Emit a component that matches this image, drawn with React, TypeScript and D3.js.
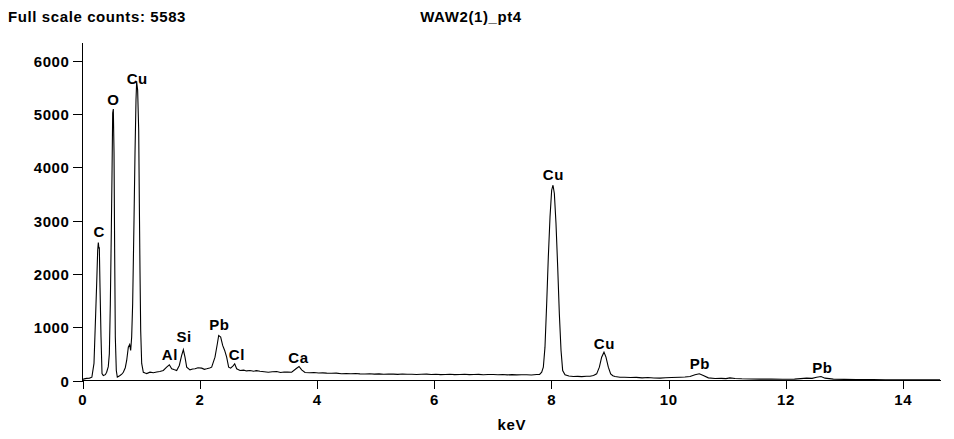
import React, { useEffect } from "react";
import * as d3 from "d3";

const energy: number[] = [
  0.0, 0.03, 0.07, 0.12, 0.16, 0.196, 0.225, 0.242, 0.259, 0.27, 0.28, 0.287, 0.299, 0.316, 0.333, 0.355, 0.39, 0.412, 0.44, 0.458,
  0.475, 0.492, 0.503, 0.515, 0.526, 0.538, 0.549, 0.56, 0.577, 0.594, 0.62, 0.64, 0.67, 0.697, 0.73, 0.754, 0.782, 0.805, 0.822, 0.839,
  0.856, 0.879, 0.896, 0.913, 0.924, 0.941, 0.959, 0.97, 0.981, 0.993, 1.01, 1.038, 1.07, 1.095, 1.152, 1.21, 1.266, 1.32, 1.379, 1.436,
  1.482, 1.522, 1.56, 1.607, 1.652, 1.692, 1.721, 1.749, 1.778, 1.834, 1.88, 1.92, 1.97, 2.034, 2.08, 2.119, 2.17, 2.204, 2.261, 2.301,
  2.324, 2.358, 2.392, 2.426, 2.46, 2.494, 2.528, 2.574, 2.597, 2.631, 2.688, 2.75, 2.8, 2.858, 2.92, 2.97, 3.029, 3.1, 3.171, 3.24,
  3.313, 3.38, 3.44, 3.5, 3.569, 3.643, 3.695, 3.74, 3.797, 3.88, 3.95, 4.03, 4.1, 4.167, 4.25, 4.33, 4.42, 4.5, 4.58, 4.66,
  4.735, 4.82, 4.9, 4.98, 5.06, 5.14, 5.22, 5.304, 5.38, 5.46, 5.54, 5.62, 5.7, 5.78, 5.873, 5.95, 6.03, 6.11, 6.19, 6.27,
  6.35, 6.442, 6.52, 6.6, 6.68, 6.76, 6.84, 6.92, 7.011, 7.09, 7.17, 7.25, 7.33, 7.41, 7.49, 7.58, 7.66, 7.75, 7.8, 7.836,
  7.864, 7.892, 7.921, 7.949, 7.978, 8.006, 8.029, 8.052, 8.08, 8.109, 8.137, 8.166, 8.194, 8.234, 8.3, 8.376, 8.45, 8.52, 8.6, 8.66,
  8.72, 8.774, 8.82, 8.859, 8.899, 8.933, 8.973, 9.013, 9.05, 9.087, 9.172, 9.25, 9.35, 9.45, 9.55, 9.65, 9.75, 9.855, 9.95, 10.05,
  10.196, 10.28, 10.367, 10.452, 10.526, 10.594, 10.68, 10.794, 10.9, 10.98, 11.049, 11.135, 11.25, 11.4, 11.561, 11.75, 11.95, 12.15, 12.358, 12.45,
  12.528, 12.602, 12.671, 12.813, 13.0, 13.2, 13.496, 13.7, 13.9, 14.1, 14.3, 14.5, 14.633,
];

const counts: number[] = [
  20, 30, 40, 45, 62, 320, 1260, 1820, 2440, 2590, 2480, 2500, 1750, 815, 130, 94, 110, 155, 260, 500,
  1440, 2820, 3820, 5020, 5095, 4270, 2390, 815, 188, 62, 80, 94, 120, 155, 240, 376, 626, 677, 564, 815,
  1440, 3010, 4270, 5264, 5608, 5452, 4700, 3330, 2070, 940, 320, 155, 140, 130, 156, 145, 160, 170, 188, 250,
  295, 220, 205, 188, 282, 470, 577, 438, 250, 200, 215, 220, 240, 232, 210, 220, 235, 250, 438, 690,
  846, 815, 658, 564, 438, 250, 232, 280, 314, 220, 188, 195, 180, 188, 175, 185, 175, 165, 156, 165,
  169, 150, 160, 158, 156, 220, 263, 200, 150, 145, 150, 140, 143, 138, 135, 138, 128, 132, 127, 130,
  125, 122, 127, 120, 124, 118, 122, 119, 115, 121, 116, 118, 113, 117, 119, 112, 116, 110, 114, 118,
  111, 113, 116, 110, 113, 115, 109, 112, 113, 108, 112, 106, 110, 105, 109, 107, 104, 113, 115, 156,
  250, 626, 1442, 2318, 3070, 3572, 3666, 3510, 2946, 2130, 1254, 564, 188, 107, 85, 75, 78, 72, 80, 81,
  95, 125, 250, 438, 532, 438, 250, 125, 90, 75, 62, 60, 55, 58, 50, 55, 48, 44, 52, 56,
  62, 66, 75, 107, 126, 94, 50, 38, 40, 36, 50, 38, 32, 28, 25, 27, 24, 26, 44, 40,
  62, 75, 44, 25, 22, 20, 19, 15, 14, 15, 12, 14, 12,
];

const peakLabels: string[] = ["C", "O", "Cu", "Al", "Si", "Pb", "Cl", "Ca", "Cu", "Cu", "Pb", "Pb"];
const peakEnergy: number[] = [0.28, 0.52, 0.93, 1.485, 1.73, 2.33, 2.63, 3.68, 8.03, 8.9, 10.53, 12.62];
const peakLabelCounts: number[] = [2690, 5170, 5560, 376, 714, 940, 376, 325, 3760, 600, 225, 132];

const xTicks: number[] = [0, 2, 4, 6, 8, 10, 12, 14];
const yTicks: number[] = [0, 1000, 2000, 3000, 4000, 5000, 6000];

const leftTitle = "Full scale counts: 5583";
const centerTitle = "WAW2(1)_pt4";
const xLabel = "keV";

const W = 954;
const H = 439;
const FONT = "'Liberation Sans', Arial, sans-serif";
const LS = 0.6;

export default function App() {
  useEffect(() => {
    document.body.style.margin = "0";
  }, []);

  const x = d3.scaleLinear().domain([0, 14.65]).range([82.5, 941]);
  const y = d3.scaleLinear().domain([0, 6336]).range([380.5, 43]);

  const pts: [number, number][] = energy.map((e, i) => [e, counts[i]]);
  const line = d3
    .line<[number, number]>()
    .x((d) => x(d[0]))
    .y((d) => y(d[1]))
    .curve(d3.curveLinear);

  const y0 = y(0);

  return (
    <svg width={W} height={H} style={{ display: "block", background: "#fff" }} fontFamily={FONT} fontWeight="bold" letterSpacing={LS}>
      <rect x={0} y={0} width={W} height={H} fill="#fff" />
      <text x={8} y={22} fontSize={15} fill="#000">{leftTitle}</text>
      <text x={471} y={22} fontSize={15} fill="#000" textAnchor="middle">{centerTitle}</text>

      {/* axes */}
      <line x1={x(0)} x2={x(0)} y1={43} y2={y0} stroke="#000" strokeWidth={1} shapeRendering="crispEdges" />
      <line x1={x(0)} x2={941} y1={y0} y2={y0} stroke="#000" strokeWidth={1} shapeRendering="crispEdges" />

      {yTicks.map((t) => (
        <g key={"y" + t}>
          <line x1={73} x2={x(0)} y1={Math.round(y(t)) + 0.5} y2={Math.round(y(t)) + 0.5} stroke="#000" shapeRendering="crispEdges" />
          <text x={69.5} y={Math.round(y(t)) + 5.5} fontSize={15} textAnchor="end" fill="#000">{t}</text>
        </g>
      ))}

      {xTicks.map((t) => (
        <g key={"x" + t}>
          <line x1={Math.round(x(t)) + 0.5} x2={Math.round(x(t)) + 0.5} y1={y0} y2={389} stroke="#000" shapeRendering="crispEdges" />
          <text x={x(t) + LS / 2} y={405} fontSize={15} textAnchor="middle" fill="#000">{t}</text>
        </g>
      ))}

      <text x={(x(0) + 941) / 2} y={430} fontSize={15} textAnchor="middle" fill="#000">{xLabel}</text>

      <path d={line(pts) || ""} fill="none" stroke="#000" strokeWidth={1.1} />

      {peakLabels.map((l, i) => (
        <text key={"p" + i} x={x(peakEnergy[i]) + LS / 2} y={y(peakLabelCounts[i])} fontSize={15} textAnchor="middle" fill="#000">
          {l}
        </text>
      ))}
    </svg>
  );
}
